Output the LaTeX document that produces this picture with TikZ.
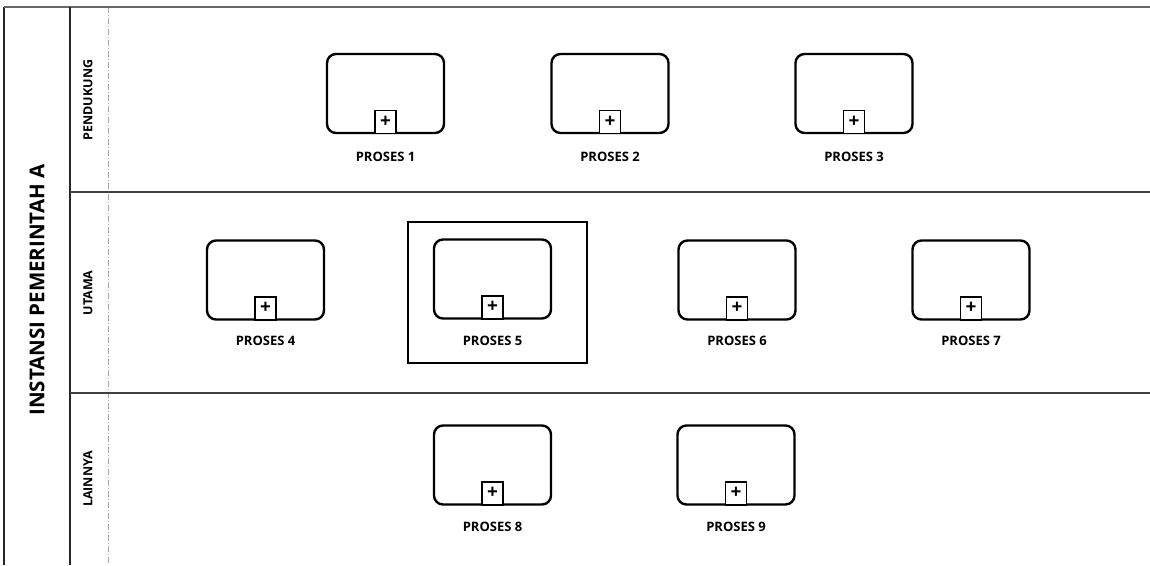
\documentclass[tikz,border=0pt]{standalone}
\usepackage{fontspec}
\setmainfont{Open Sans}
\newcommand\procbox[5]{%
  \node[task] (#1) at (#2,#3) {};
  \node[sub] (#1m) at (#1.south) {\fontsize{19}{19}\selectfont\bfseries\raisebox{1pt}{+}};
  \node[lbl] (#1l) at (#2,#5) {#4};
}
\begin{document}
\begin{tikzpicture}[x=1pt,y=-1pt,
  task/.style={draw, line width=2.4pt, rounded corners=9pt, minimum width=117pt, minimum height=79pt, inner sep=0pt},
  sub/.style={draw, line width=1.5pt, minimum width=21pt, minimum height=23pt, inner sep=0pt, anchor=south, fill=white},
  lbl/.style={font=\fontsize{13}{13}\selectfont\bfseries, inner sep=0pt},
  poolline/.style={line width=2pt, draw=black!85},
  laneline/.style={line width=1.8pt, draw=black!75},
  lanelbl/.style={rotate=90, inner sep=0pt, font=\fontsize{12.5}{12.5}\selectfont\bfseries},
  guide/.style={line width=0.6pt, draw=black!35, dash pattern=on 6pt off 2pt on 1pt off 2pt}
]
\useasboundingbox (0,0) rectangle (1150,565);
% pool frame
\coordinate (tl) at (4,7);
\coordinate (tr) at (1150,7);
\coordinate (bl) at (4,565);
\coordinate (ht) at (70,7);
\coordinate (hb) at (70,565);
\coordinate (gt) at (108,7);
\coordinate (gb) at (108,565);
\coordinate (l1a) at (70,192);
\coordinate (l1b) at (1150,192);
\coordinate (l2a) at (70,393);
\coordinate (l2b) at (1150,393);
\draw[guide] (gt) -- (gb);
\draw[poolline] (bl) -- (tl);
\draw[line width=2pt, draw=black!60] (tl) -- (tr);
\draw[poolline] (ht) -- (hb);
\draw[laneline] (l1a) -- (l1b);
\draw[laneline] (l2a) -- (l2b);
% labels
\node[rotate=90, inner sep=0pt, font=\fontsize{20.5}{20.5}\selectfont\bfseries] (pool) at (37,290) {INSTANSI PEMERINTAH A};
\node[lanelbl] (lane1) at (88,100) {PENDUKUNG};
\node[lanelbl] (lane2) at (88,293) {UTAMA};
\node[lanelbl] (lane3) at (88,479) {LAINNYA};
% selection frame
\node[draw, line width=1.6pt, minimum width=179pt, minimum height=141pt, inner sep=0pt] (sel) at (497.5,292.5) {};
% processes
\procbox{p1}{385.5}{93.5}{PROSES 1}{157}
\procbox{p2}{610}{93.5}{PROSES 2}{157}
\procbox{p3}{854}{93.5}{PROSES 3}{157}
\procbox{p4}{265.5}{280}{PROSES 4}{341}
\procbox{p5}{492.5}{279}{PROSES 5}{341}
\procbox{p6}{737}{280}{PROSES 6}{341}
\procbox{p7}{971}{280}{PROSES 7}{341}
\procbox{p8}{492.5}{465}{PROSES 8}{527}
\procbox{p9}{736}{465}{PROSES 9}{527}
\end{tikzpicture}
\end{document}
